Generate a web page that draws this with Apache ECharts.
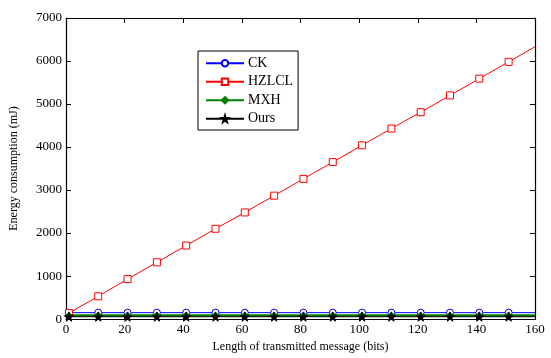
<!DOCTYPE html>
<html><head><meta charset="utf-8">
<script src="https://cdn.jsdelivr.net/npm/echarts@6/dist/echarts.min.js"></script>
<style>html,body{margin:0;padding:0;background:#fff}#c{width:551px;height:358px}</style>
</head><body><div id="c"></div>
<script>
const xValues = [1, 11, 21, 31, 41, 51, 61, 71, 81, 91, 101, 111, 121, 131, 141, 151, 160];
const ckValues = [150, 150, 150, 150, 150, 150, 150, 150, 150, 150, 150, 150, 150, 150, 150, 150, 150];
const hzlclValues = [140, 530, 930, 1320, 1710, 2100, 2480, 2870, 3260, 3650, 4040, 4430, 4810, 5200, 5590, 5980, 6330];
const mxhValues = [85, 85, 85, 85, 85, 85, 85, 85, 85, 85, 85, 85, 85, 85, 85, 85, 85];
const oursValues = [55, 55, 55, 55, 55, 55, 55, 55, 55, 55, 55, 55, 55, 55, 55, 55, 55];
const xTicks = { min: 0, max: 160, interval: 20 };
const yTicks = { min: 0, max: 7000, interval: 1000 };

const STAR = 'path://M50,0 L61,35 L98,35 L68,57 L79,91 L50,70 L21,91 L32,57 L2,35 L39,35 Z';
const font = 'Liberation Serif';

function mk(vals) {
  return xValues.map((x, i) => {
    const d = { value: [x, vals[i]] };
    if (x === 160) d.symbol = 'none';
    return d;
  });
}
function series(name, vals, color, symbol, size, fill, lw) {
  return {
    name, type: 'line', data: mk(vals), symbol, symbolSize: size,
    showAllSymbol: true,
    lineStyle: { color, width: lw },
    itemStyle: { color: fill, borderColor: color, borderWidth: 1 },
    emphasis: { disabled: true }, animation: false, z: 2
  };
}
const chart = echarts.init(document.getElementById('c'));
const axisCommon = {
  axisLine: { show: true, onZero: false, lineStyle: { color: '#000', width: 1.2 } },
  axisTick: { show: true, inside: true, length: 5, lineStyle: { color: '#000' } },
  splitLine: { show: false },
};
const lbl = { fontFamily: font, fontSize: 13, color: '#000', formatter: v => String(v) };
chart.setOption({
  animation: false,
  grid: { left: 65, right: 16, top: 18, bottom: 34 },
  legend: {
    orient: 'vertical', left: 198, top: 51,
    itemWidth: 38, itemHeight: 8, itemGap: 4,
    backgroundColor: '#fff', borderColor: '#000', borderWidth: 1,
    padding: [5, 5, 4, 7],
    textStyle: { fontFamily: font, fontSize: 14, lineHeight: 14.5, color: '#000', padding: [0, 0, 0, -1] },
    data: ['CK', 'HZLCL', 'MXH', 'Ours']
  },
  xAxis: [
    Object.assign({ type: 'value', position: 'bottom', min: xTicks.min, max: xTicks.max, interval: xTicks.interval,
      name: 'Length of transmitted message (bits)', nameLocation: 'middle', nameGap: 21,
      nameTextStyle: { fontFamily: font, fontSize: 12, color: '#000' },
      axisLabel: Object.assign({ margin: 4 }, lbl) }, axisCommon),
    Object.assign({ type: 'value', position: 'top', min: xTicks.min, max: xTicks.max, interval: xTicks.interval,
      axisLabel: { show: false } }, axisCommon)
  ],
  yAxis: [
    Object.assign({ type: 'value', position: 'left', min: yTicks.min, max: yTicks.max, interval: yTicks.interval,
      name: 'Energy consumption (mJ)', nameLocation: 'middle', nameGap: 46,
      nameTextStyle: { fontFamily: font, fontSize: 12, color: '#000' },
      axisLabel: Object.assign({ margin: 4 }, lbl) }, axisCommon),
    Object.assign({ type: 'value', position: 'right', min: yTicks.min, max: yTicks.max, interval: yTicks.interval,
      axisLabel: { show: false } }, axisCommon)
  ],
  series: [
    series('CK', ckValues, '#0000ff', 'circle', 7, '#fff', 1),
    series('HZLCL', hzlclValues, '#ff0000', 'rect', 7, '#fff', 1),
    series('MXH', mxhValues, '#008000', 'diamond', 7, '#008000', 2.5),
    series('Ours', oursValues, '#000000', STAR, 9, '#000', 1)
  ]
});
</script></body></html>
